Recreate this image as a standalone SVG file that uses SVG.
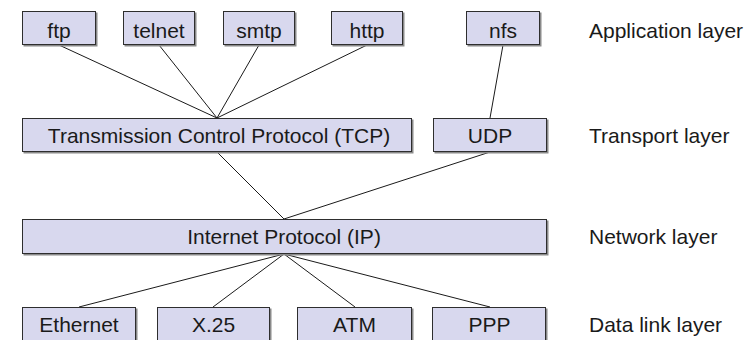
<svg xmlns="http://www.w3.org/2000/svg" width="755" height="340" viewBox="0 0 755 340">
<style>
.box{fill:#d8d8ee;stroke:#2e2e2e;stroke-width:1}
.shd{fill:#8a8a8a}
.t{font-family:"Liberation Sans",Arial,sans-serif;font-size:21px;fill:#1a1a1a;text-anchor:middle}
.lab{font-family:"Liberation Sans",Arial,sans-serif;font-size:21px;fill:#1a1a1a}
.c{stroke:#1a1a1a;stroke-width:1;fill:none}
</style>
<rect width="755" height="340" fill="#ffffff"/>
<g id="connectors">
<line class="c" x1="59" y1="45" x2="217" y2="118"/>
<line class="c" x1="159" y1="45" x2="217" y2="118"/>
<line class="c" x1="259" y1="45" x2="217" y2="118"/>
<line class="c" x1="367" y1="45" x2="217" y2="118"/>
<line class="c" x1="503" y1="45" x2="490" y2="118"/>
<line class="c" x1="217" y1="152" x2="284" y2="219"/>
<line class="c" x1="490" y1="152" x2="284" y2="219"/>
<line class="c" x1="284" y1="254" x2="79" y2="307"/>
<line class="c" x1="284" y1="254" x2="213" y2="307"/>
<line class="c" x1="284" y1="254" x2="355" y2="307"/>
<line class="c" x1="284" y1="254" x2="490" y2="307"/>
</g>
<g id="ftp"><rect class="shd" x="23.5" y="12.5" width="74" height="34"/><rect class="box" x="22.5" y="11.5" width="73" height="33"/><text class="t" x="59" y="37.5">ftp</text></g>
<g id="telnet"><rect class="shd" x="124.5" y="12.5" width="72" height="34"/><rect class="box" x="123.5" y="11.5" width="71" height="33"/><text class="t" x="159" y="37.5">telnet</text></g>
<g id="smtp"><rect class="shd" x="224.5" y="12.5" width="72" height="34"/><rect class="box" x="223.5" y="11.5" width="71" height="33"/><text class="t" x="259" y="37.5">smtp</text></g>
<g id="http"><rect class="shd" x="332.5" y="12.5" width="72" height="34"/><rect class="box" x="331.5" y="11.5" width="71" height="33"/><text class="t" x="367" y="37.5">http</text></g>
<g id="nfs"><rect class="shd" x="467.5" y="12.5" width="74" height="34"/><rect class="box" x="466.5" y="11.5" width="73" height="33"/><text class="t" x="503" y="37.5">nfs</text></g>
<g id="tcp"><rect class="shd" x="23.5" y="119.5" width="390" height="34"/><rect class="box" x="22.5" y="118.5" width="389" height="33"/><text class="t" x="219" y="143">Transmission Control Protocol (TCP)</text></g>
<g id="udp"><rect class="shd" x="434.5" y="119.5" width="114" height="34"/><rect class="box" x="433.5" y="118.5" width="113" height="33"/><text class="t" x="490" y="143">UDP</text></g>
<g id="ip"><rect class="shd" x="23.5" y="220.5" width="525" height="35"/><rect class="box" x="22.5" y="219.5" width="524" height="34"/><text class="t" x="284" y="244">Internet Protocol (IP)</text></g>
<g id="ethernet"><rect class="shd" x="23.5" y="308.5" width="114" height="34"/><rect class="box" x="22.5" y="307.5" width="113" height="33"/><text class="t" x="79" y="332">Ethernet</text></g>
<g id="x25"><rect class="shd" x="158.5" y="308.5" width="113" height="34"/><rect class="box" x="157.5" y="307.5" width="112" height="33"/><text class="t" x="213.5" y="332">X.25</text></g>
<g id="atm"><rect class="shd" x="298.5" y="308.5" width="115" height="34"/><rect class="box" x="297.5" y="307.5" width="114" height="33"/><text class="t" x="354.5" y="332">ATM</text></g>
<g id="ppp"><rect class="shd" x="433.5" y="308.5" width="114" height="34"/><rect class="box" x="432.5" y="307.5" width="113" height="33"/><text class="t" x="489.5" y="332">PPP</text></g>
<g id="labels">
<text class="lab" x="589" y="37.5">Application layer</text>
<text class="lab" x="589" y="143">Transport layer</text>
<text class="lab" x="589" y="244">Network layer</text>
<text class="lab" x="589" y="332">Data link layer</text>
</g>
</svg>
